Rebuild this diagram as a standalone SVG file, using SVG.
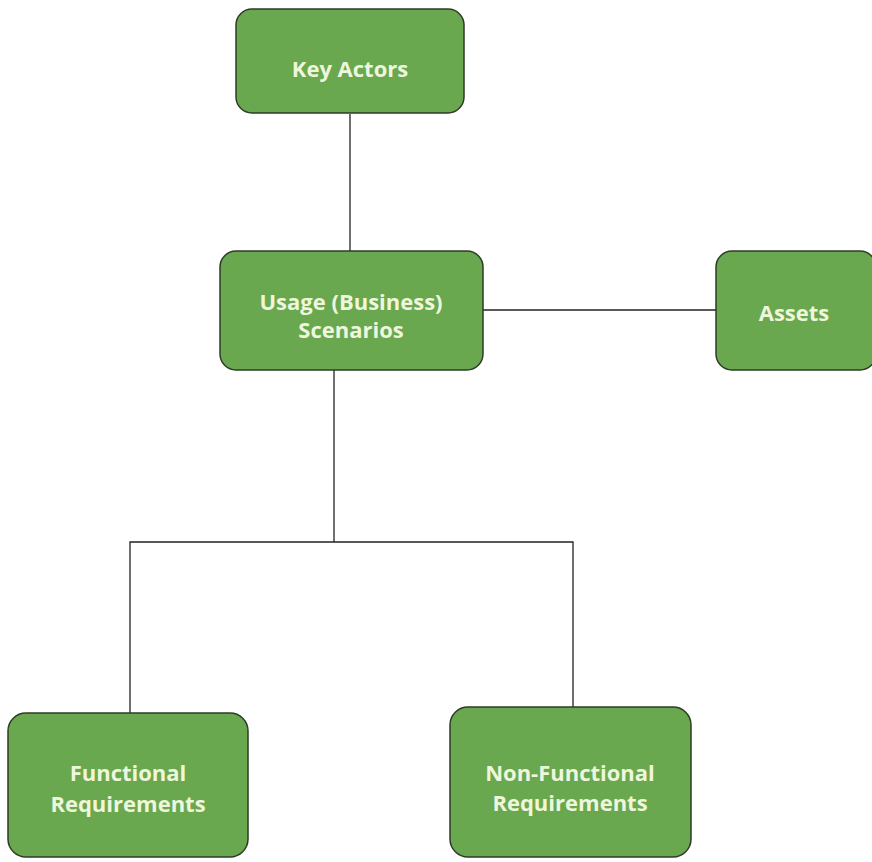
<svg xmlns="http://www.w3.org/2000/svg" width="872" height="862" viewBox="0 0 872 862">
<style>
.box{fill:#6aa84f;stroke:#2e3b29;stroke-width:1.5}
.lbl{font-family:"Open Sans","Liberation Sans",sans-serif;font-weight:bold;font-size:22px;fill:#eef6dc;text-anchor:middle;dominant-baseline:central}
.con{stroke:#222;stroke-width:1.3;fill:none}
</style>
<rect width="872" height="862" fill="#fff"/>
<g id="connectors">
<line class="con" x1="350" y1="114" x2="350" y2="251"/>
<line class="con" x1="483" y1="310" x2="716" y2="310"/>
<polyline class="con" points="334,370 334,542"/>
<polyline class="con" points="130,713 130,542 573,542 573,707"/>
</g>
<g id="key-actors">
<rect class="box" x="236" y="9" width="228" height="104" rx="16"/>
<text class="lbl" x="350" y="68">Key Actors</text>
</g>
<g id="usage-scenarios">
<rect class="box" x="220" y="251" width="263" height="119" rx="16"/>
<text class="lbl" x="351" y="301">Usage (Business)</text>
<text class="lbl" x="351" y="329">Scenarios</text>
</g>
<g id="assets">
<rect class="box" x="716" y="251" width="160" height="119" rx="16"/>
<text class="lbl" x="794" y="312">Assets</text>
</g>
<g id="functional-requirements">
<rect class="box" x="8" y="713" width="240" height="144" rx="18"/>
<text class="lbl" x="128" y="772">Functional</text>
<text class="lbl" x="128" y="803">Requirements</text>
</g>
<g id="non-functional-requirements">
<rect class="box" x="450" y="707" width="241" height="150" rx="18"/>
<text class="lbl" x="570" y="772">Non-Functional</text>
<text class="lbl" x="570" y="802">Requirements</text>
</g>
</svg>
